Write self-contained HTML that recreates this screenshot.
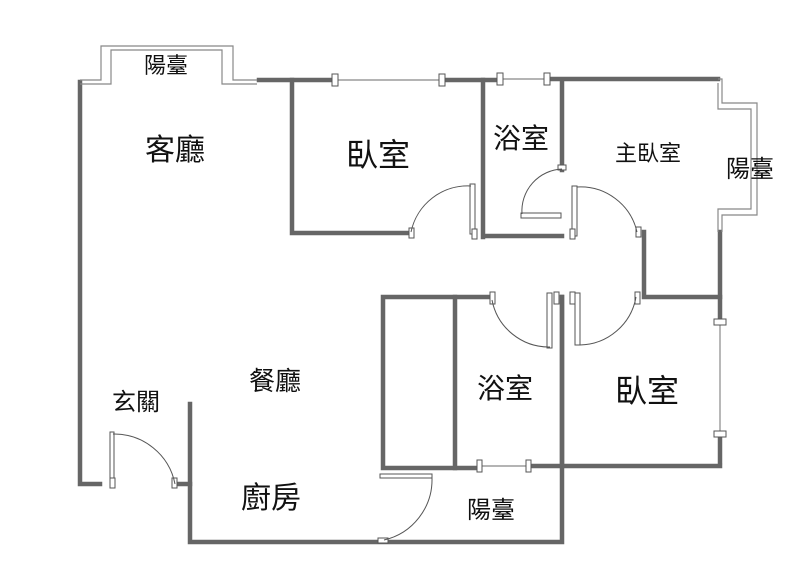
<!DOCTYPE html>
<html><head><meta charset="utf-8"><style>
html,body{margin:0;padding:0;background:#fff;}
svg{display:block}
text{font-family:"Liberation Sans","Noto Sans CJK TC",sans-serif;fill:#111;text-anchor:middle}
</style></head><body>
<svg width="800" height="577" viewBox="0 0 800 577" xmlns="http://www.w3.org/2000/svg">
<g stroke="#666" stroke-width="4.5" fill="none" stroke-linecap="square">
<polyline points="80,82 80,484 100,484"/>
<polyline points="175,484 190,484"/>
<polyline points="190,404 190,542 562,542 562,297"/>
<line x1="259" y1="80" x2="333" y2="80"/>
<line x1="444" y1="80" x2="498" y2="80"/>
<line x1="549" y1="79" x2="718" y2="79"/>
<polyline points="292,80 292,233 410,233"/>
<line x1="483" y1="80" x2="483" y2="237"/>
<polyline points="485,236 562,236"/>
<line x1="562" y1="80" x2="562" y2="170"/>
<polyline points="644,232 644,297 720,297"/>
<line x1="720" y1="232" x2="720" y2="320"/>
<line x1="720" y1="436" x2="720" y2="462"/>
<polyline points="490,297 383,297 383,468 478,468"/>
<line x1="455" y1="297" x2="455" y2="468"/>
<line x1="530" y1="466" x2="720" y2="466"/>
<line x1="562" y1="297" x2="562" y2="466"/>
</g>
<g stroke="#888" stroke-width="1.2" fill="none">
<polyline points="80,80 101,80 101,46 233,46 233,80 257,80"/>
<polyline points="80,84 111,84 111,50 222,50 222,84 257,84"/>
<polyline points="718,79 722,79 722,103 757,103 757,215 722,215 722,232"/>
<polyline points="718,83 718,109 751,109 751,209 718,209 718,232"/>
<line x1="335" y1="80" x2="442" y2="80"/>
<line x1="500" y1="79" x2="547" y2="79"/>
<line x1="720" y1="322" x2="720" y2="434"/>
<line x1="480" y1="466" x2="528" y2="466"/>
</g>
<g stroke="#555" stroke-width="1" fill="#fff">
<rect x="332" y="74" width="6" height="12"/><rect x="439" y="74" width="6" height="12"/>
<rect x="497" y="73" width="6" height="12"/><rect x="544" y="73" width="6" height="12"/>
<rect x="714" y="319" width="12" height="6"/><rect x="714" y="431" width="12" height="6"/>
<rect x="477" y="460" width="5" height="12"/><rect x="526" y="460" width="5" height="12"/>
<rect x="470" y="184" width="5" height="50"/><rect x="409" y="228" width="5" height="10"/><rect x="472" y="229" width="5" height="10"/>
<rect x="572" y="186" width="5" height="50"/><rect x="570" y="229" width="5" height="10"/><rect x="636" y="227" width="5" height="10"/>
<rect x="547" y="293" width="5" height="55"/><rect x="490" y="292" width="5" height="12"/><rect x="554" y="292" width="5" height="12"/>
<rect x="575" y="293" width="5" height="52"/><rect x="570" y="292" width="5" height="12"/><rect x="635" y="292" width="5" height="12"/>
<rect x="110" y="432" width="4" height="52"/><rect x="110" y="478" width="5" height="10"/><rect x="172" y="478" width="5" height="10"/>
<rect x="380" y="474" width="52" height="4"/><rect x="378" y="538" width="10" height="5"/>
<rect x="521" y="213" width="40" height="5"/><rect x="558" y="165" width="8" height="5"/>
</g>
<g stroke="#555" stroke-width="1" fill="none">
<path d="M411,232 A58,58 0 0 1 471,186"/>
<path d="M577,187 A58,58 0 0 1 637,232"/>
<path d="M492,300 A58,58 0 0 0 550,347"/>
<path d="M580,345 A58,58 0 0 0 636,297"/>
<path d="M113,434 A62,62 0 0 1 175,484"/>
<path d="M432,478 A62,62 0 0 1 384,540"/>
<path d="M562,169 A42,42 0 0 0 522,214"/>
</g>
<text x="166" y="73" font-size="22">陽臺</text>
<text x="175" y="160" font-size="30">客廳</text>
<text x="378" y="166" font-size="32">臥室</text>
<text x="521" y="148" font-size="28">浴室</text>
<text x="648" y="161" font-size="22">主臥室</text>
<text x="750" y="177" font-size="24">陽臺</text>
<text x="275" y="390" font-size="26">餐廳</text>
<text x="136" y="410" font-size="24">玄關</text>
<text x="505" y="398" font-size="28">浴室</text>
<text x="647" y="402" font-size="32">臥室</text>
<text x="271" y="508" font-size="30">廚房</text>
<text x="491" y="518" font-size="24">陽臺</text>
</svg>
</body></html>
